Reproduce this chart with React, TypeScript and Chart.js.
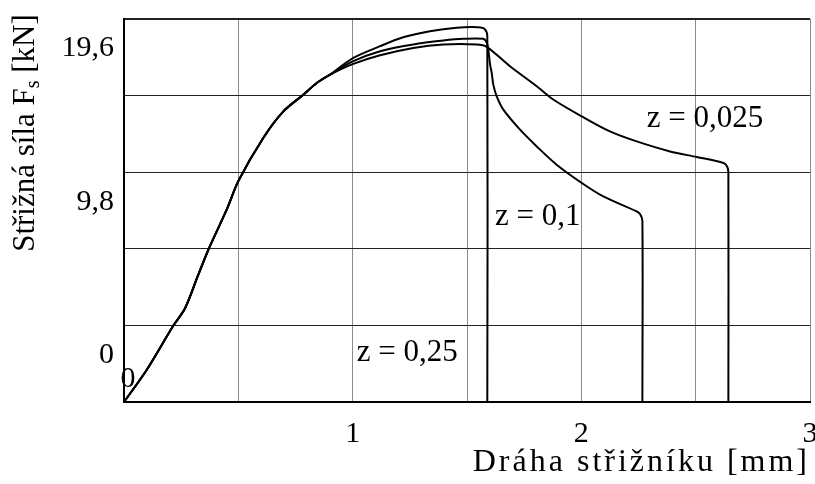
import React, { useEffect, useRef } from "react";
import { Chart, registerables } from "chart.js";
Chart.register(...registerables);

// ---- data (x: punch travel in mm, y: shear force in kN) ----
const commonX = [0, 0.099, 0.216, 0.267, 0.322, 0.369, 0.449, 0.501, 0.609, 0.697, 0.784, 0.843, 0.901];
const commonF = [0, 2.05, 4.89, 6.0, 8.03, 9.74, 12.3, 14.16, 16.89, 18.59, 19.66, 20.41, 20.94];

const z025X = [1.003, 1.12, 1.221, 1.338, 1.455, 1.549, 1.578, 1.5888, 1.5888];
const z025F = [22.01, 22.76, 23.33, 23.72, 23.94, 23.97, 23.85, 23.4, 0];

const z01X = [1.003, 1.12, 1.265, 1.396, 1.484, 1.571, 1.587, 1.593, 1.601, 1.608, 1.615, 1.63, 1.659, 1.732, 1.805, 1.892, 2.002, 2.096, 2.242, 2.258, 2.267, 2.267];
const z01F = [21.8, 22.44, 22.87, 23.12, 23.23, 23.23, 22.97, 22.55, 21.58, 21.05, 20.3, 19.55, 18.7, 17.42, 16.35, 15.18, 14.01, 13.15, 12.19, 12.0, 11.6, 0];

const z0025X = [1.003, 1.12, 1.265, 1.396, 1.542, 1.586, 1.688, 1.805, 1.877, 2.002, 2.125, 2.242, 2.388, 2.505, 2.622, 2.638, 2.643, 2.643];
const z0025F = [21.63, 22.18, 22.65, 22.87, 22.87, 22.72, 21.48, 20.2, 19.35, 18.27, 17.31, 16.67, 16.03, 15.67, 15.29, 15.05, 14.7, 0];

const seriesLabels = ["z = 0,25", "z = 0,1", "z = 0,025"];
const labelAnchorX = [1.018, 1.622, 2.286];
const labelAnchorF = [3.14, 11.82, 18.13];

const xTickLabels = ["", "", "1", "", "2", "", "3"];
const yTickLabels = ["0", "", "9,8", "", "19,6", ""];
const originLabel = "0";

const xTitle = "Dráha střižníku [mm]";
const yTitleMain = "Střižná síla F";
const yTitleSub = "s";
const yTitleEnd = " [kN]";

const FONT = "'Liberation Serif', 'Times New Roman', serif";

function pts(xs: number[], ys: number[]) {
  const all = commonX.map((x, i) => ({ x, y: commonF[i] }));
  return all.concat(xs.map((x, i) => ({ x, y: ys[i] })));
}

const textPlugin = {
  id: "textPlugin",
  afterDraw(chart: any) {
    const { ctx, scales, chartArea } = chart;
    const xs = scales.x;
    const ys = scales.y;
    ctx.save();
    ctx.fillStyle = "#000";
    // series labels
    ctx.font = `31px ${FONT}`;
    ctx.textAlign = "left";
    ctx.textBaseline = "middle";
    seriesLabels.forEach((t, i) => {
      ctx.fillText(t, xs.getPixelForValue(labelAnchorX[i]), ys.getPixelForValue(labelAnchorF[i]));
    });
    // origin label
    ctx.font = `30px ${FONT}`;
    ctx.textAlign = "center";
    ctx.fillText(originLabel, xs.getPixelForValue(0) + 4, ys.getPixelForValue(0) - 23);
    // x title
    ctx.save();
    ctx.font = `32px ${FONT}`;
    (ctx as any).letterSpacing = "3px";
    ctx.textAlign = "right";
    ctx.textBaseline = "alphabetic";
    ctx.fillText(xTitle, chartArea.right, 471);
    ctx.restore();
    // y title with subscript
    ctx.translate(34, 133);
    ctx.rotate(-Math.PI / 2);
    ctx.textAlign = "left";
    ctx.textBaseline = "alphabetic";
    const big = `31px ${FONT}`;
    const small = `20px ${FONT}`;
    ctx.font = big;
    const w1 = ctx.measureText(yTitleMain).width;
    const w3 = ctx.measureText(yTitleEnd).width;
    ctx.font = small;
    const w2 = ctx.measureText(yTitleSub).width;
    let x0 = -(w1 + w2 + w3) / 2;
    ctx.font = big;
    ctx.fillText(yTitleMain, x0, 0);
    x0 += w1;
    ctx.font = small;
    ctx.fillText(yTitleSub, x0, 5);
    x0 += w2;
    ctx.font = big;
    ctx.fillText(yTitleEnd, x0, 0);
    ctx.restore();
  },
};

function zeroPad(s: any) {
  s.paddingLeft = 0;
  s.paddingRight = 0;
  s.paddingTop = 0;
  s.paddingBottom = 0;
}

export default function App() {
  const ref = useRef<HTMLCanvasElement>(null);
  useEffect(() => {
    if (!ref.current) return;
    const line = {
      borderColor: "#000",
      borderWidth: 2,
      pointRadius: 0,
      fill: false,
      tension: 0.3,
    };
    const chart = new Chart(ref.current, {
      type: "line",
      data: {
        datasets: [
          { ...line, label: seriesLabels[0], data: pts(z025X, z025F) },
          { ...line, label: seriesLabels[1], data: pts(z01X, z01F) },
          { ...line, label: seriesLabels[2], data: pts(z0025X, z0025F) },
        ],
      },
      options: {
        animation: false,
        responsive: false,
        parsing: false as any,
        layout: { padding: { left: 0, top: 19, right: 5, bottom: 0 } },
        plugins: { legend: { display: false }, tooltip: { enabled: false } },
        scales: {
          x: {
            type: "linear",
            min: 0,
            max: 3,
            afterFit: (s: any) => {
              s.height = 82;
              zeroPad(s);
            },
            ticks: {
              stepSize: 0.5,
              autoSkip: false,
              maxRotation: 0,
              padding: 14,
              color: "#000",
              font: { family: FONT, size: 30 },
              callback: (_v: any, i: number) => xTickLabels[i] ?? "",
            },
            grid: { color: "#8a8a8a", lineWidth: 1, drawTicks: false },
            border: { color: "#000", width: 2 },
          },
          y: {
            type: "linear",
            min: 0,
            max: 24.5,
            afterFit: (s: any) => {
              s.width = 124;
              zeroPad(s);
            },
            ticks: {
              stepSize: 4.9,
              padding: 10,
              labelOffset: -47,
              color: "#000",
              font: { family: FONT, size: 30 },
              callback: (_v: any, i: number) => yTickLabels[i] ?? "",
            },
            grid: {
              color: "#222",
              lineWidth: (c: any) => (c.index === 5 ? 2 : 1),
              drawTicks: false,
            },
            border: { color: "#000", width: 2 },
          },
        },
      },
      plugins: [textPlugin],
    } as any);
    return () => chart.destroy();
  }, []);
  return (
    <div style={{ position: "fixed", left: 0, top: 0, width: 815, height: 484, background: "#fff" }}>
      <canvas ref={ref} width={815} height={484} style={{ display: "block" }} />
    </div>
  );
}
